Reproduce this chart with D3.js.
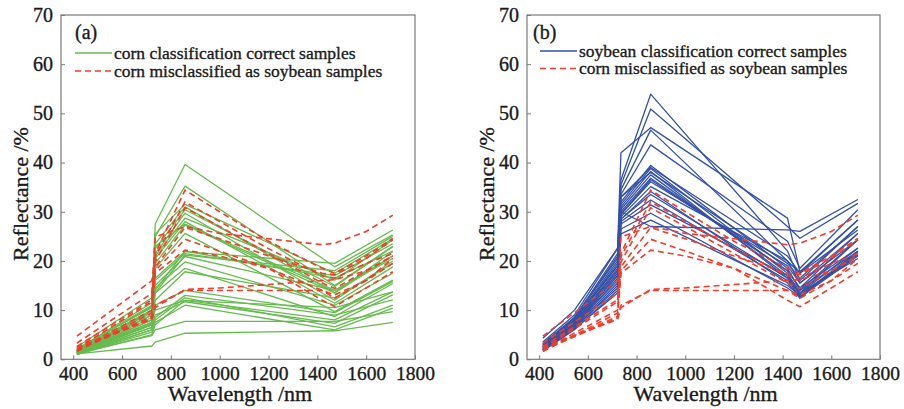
<!DOCTYPE html>
<html>
<head>
<meta charset="utf-8">
<script src="https://cdn.jsdelivr.net/npm/d3@7"></script>
<style>
  body { margin: 0; background: #fff; }
  svg { display: block; }
  svg text {
    font-family: "Liberation Serif", "DejaVu Serif", serif !important;
    fill: #1a1a1a;
    stroke: #1a1a1a;
    stroke-width: 0.35px;
  }
</style>
</head>
<body>
<svg id="chart" width="904" height="409"></svg>
<script>
// wavelengths (nm) where each group of spectra has a vertex
const wlGreen = [415, 722, 736, 858, 1471, 1709];
const wlBlue = [415, 545, 722, 736, 858, 1420, 1471, 1709];
const wlRed = [415, 722, 736, 858, 1000, 1200, 1420, 1471, 1600, 1709];

// corn, classified correctly (reflectance %)
const cornCorrect = [
  [2.2, 10.5, 27.5, 39.6, 18.8, 25.3],
  [2.0, 11.5, 25.0, 35.2, 15.0, 23.0],
  [1.8, 10.8, 23.5, 31.0, 13.5, 21.0],
  [1.7, 10.0, 22.5, 30.4, 14.8, 22.9],
  [1.6, 9.5, 21.5, 29.7, 12.0, 20.0],
  [1.5, 9.0, 21.0, 28.7, 16.1, 24.3],
  [1.6, 9.8, 20.5, 28.0, 11.4, 18.8],
  [1.4, 8.5, 19.5, 27.3, 13.5, 21.9],
  [1.5, 9.0, 18.5, 25.6, 9.7, 16.1],
  [1.3, 8.0, 16.5, 21.9, 19.5, 26.3],
  [1.3, 7.5, 16.0, 21.5, 17.0, 23.5],
  [1.2, 7.0, 15.0, 20.9, 14.0, 21.0],
  [1.2, 7.2, 14.5, 19.8, 11.0, 17.5],
  [1.1, 6.5, 13.5, 18.5, 8.7, 15.4],
  [1.0, 6.0, 12.0, 17.8, 12.5, 19.5],
  [1.4, 8.0, 10.0, 12.0, 8.0, 13.7],
  [1.3, 7.0, 9.0, 11.7, 7.3, 13.1],
  [1.2, 6.5, 8.5, 13.0, 9.0, 12.1],
  [1.1, 6.0, 8.0, 12.5, 6.6, 11.0],
  [1.0, 5.5, 7.5, 11.0, 6.0, 10.4],
  [1.0, 5.0, 7.0, 12.0, 10.5, 13.7],
  [1.2, 4.8, 6.0, 7.7, 7.7, 9.7],
  [1.1, 2.7, 3.5, 5.3, 5.8, 7.5],
  [1.5, 9.0, 13.5, 21.2, 18.0, 25.0],
  [1.7, 10.0, 14.0, 22.0, 16.5, 22.0],
  [2.5, 12.5, 25.5, 31.5, 17.5, 24.5],
  [2.0, 11.0, 23.0, 27.5, 14.0, 20.5],
  [1.3, 7.5, 11.0, 14.0, 9.5, 15.8]
];

// soybean, classified correctly
const soyCorrect = [
  [3.2, 8.5, 21.5, 36.5, 53.9, 22.0, 16.0, 27.0],
  [3.0, 8.3, 21.0, 35.5, 50.9, 27.0, 24.6, 31.7],
  [3.5, 9.0, 22.5, 42.0, 47.1, 28.7, 17.8, 28.3],
  [2.8, 8.0, 20.0, 34.5, 46.6, 20.0, 15.5, 25.6],
  [3.0, 8.5, 20.5, 33.5, 43.6, 24.0, 18.5, 30.4],
  [2.5, 7.8, 19.5, 32.0, 39.4, 18.5, 14.1, 24.3],
  [2.6, 7.5, 18.5, 31.5, 38.8, 17.5, 13.4, 22.6],
  [2.4, 7.2, 18.0, 31.0, 38.2, 16.5, 12.4, 21.9],
  [2.3, 7.0, 17.5, 30.5, 37.5, 17.0, 13.0, 21.2],
  [2.2, 6.8, 17.0, 30.0, 36.8, 18.0, 14.5, 22.6],
  [2.0, 6.5, 16.5, 29.5, 36.1, 19.0, 15.5, 24.3],
  [2.1, 7.0, 16.0, 29.0, 35.1, 20.0, 17.5, 26.3],
  [1.9, 6.6, 15.5, 28.5, 34.1, 15.5, 12.8, 21.5],
  [1.8, 6.3, 15.0, 28.0, 32.4, 16.0, 13.5, 20.5],
  [2.0, 6.4, 14.5, 27.5, 31.4, 17.0, 14.0, 22.0],
  [1.7, 6.0, 14.0, 26.5, 29.7, 14.5, 12.6, 21.0],
  [1.9, 6.2, 13.5, 25.5, 28.3, 15.0, 13.0, 21.9],
  [3.0, 8.0, 19.0, 30.0, 27.0, 26.3, 26.0, 32.5],
  [4.3, 10.0, 22.6, 33.0, 38.0, 19.5, 16.5, 27.0],
  [2.5, 7.5, 18.0, 29.5, 36.5, 18.0, 14.5, 25.6],
  [2.2, 7.0, 17.0, 28.5, 33.5, 16.5, 13.5, 24.3],
  [2.6, 7.8, 19.0, 33.0, 39.0, 21.0, 17.5, 28.3]
];

// corn misclassified as soybean (shown in both panels)
const cornAsSoy = [
  [3.3, 13.4, 24.9, 27.0, 25.6, 24.5, 23.3, 23.6, 26.0, 29.3],
  [2.6, 12.1, 21.5, 34.4, 30.0, 24.0, 18.5, 17.5, 21.0, 24.6],
  [2.2, 11.7, 20.9, 32.0, 28.0, 22.5, 17.0, 16.5, 19.5, 21.5],
  [4.7, 16.0, 19.8, 30.8, 27.0, 21.5, 15.5, 14.4, 18.0, 21.0],
  [1.9, 10.0, 18.8, 26.8, 24.5, 21.0, 17.5, 17.2, 20.5, 24.3],
  [1.6, 9.4, 18.0, 24.4, 22.0, 18.5, 14.0, 13.1, 16.0, 19.5],
  [2.0, 8.7, 17.5, 22.2, 21.0, 18.5, 12.0, 10.7, 14.5, 17.8],
  [2.4, 8.1, 10.5, 14.2, 14.5, 15.2, 16.0, 16.2, 18.0, 21.0],
  [1.8, 8.4, 11.0, 14.0, 14.0, 14.0, 14.0, 12.4, 16.0, 20.5]
];

const xTicks = [400, 600, 800, 1000, 1200, 1400, 1600, 1800];
const yTicks = [0, 10, 20, 30, 40, 50, 60, 70];
const legendA = ['corn classification correct samples', 'corn misclassified as soybean samples'];
const legendB = ['soybean classification correct samples', 'corn misclassified as soybean samples'];

const GREEN = '#66bb4f';
const BLUE = '#3451a6';
const RED = '#f23c2c';
const FRAME = '#7a7a7a';

const svg = d3.select('#chart');
const plotTop = 15;
const plotBottom = 359.3;

function drawPanel(p) {
  const x = d3.scaleLinear().domain([350, 1800]).range([p.left, p.right]);
  const y = d3.scaleLinear().domain([0, 70]).range([plotBottom, plotTop]);

  const g = svg.append('g');

  const lineFor = wl => d3.line().x((d, i) => x(wl[i])).y(d => y(d));

  g.append('g')
    .selectAll('path')
    .data(p.solid)
    .enter()
    .append('path')
    .attr('d', lineFor(p.solidWl))
    .attr('fill', 'none')
    .attr('stroke', p.color)
    .attr('stroke-width', 1.3)
    .attr('stroke-linejoin', 'round');

  g.append('g')
    .selectAll('path')
    .data(cornAsSoy)
    .enter()
    .append('path')
    .attr('d', lineFor(wlRed))
    .attr('fill', 'none')
    .attr('stroke', RED)
    .attr('stroke-width', 1.6)
    .attr('stroke-dasharray', '6,4');

  // frame
  g.append('rect')
    .attr('x', p.left)
    .attr('y', plotTop)
    .attr('width', p.right - p.left)
    .attr('height', plotBottom - plotTop)
    .attr('fill', 'none')
    .attr('stroke', FRAME)
    .attr('stroke-width', 1.2);

  const xAxis = g.append('g')
    .attr('transform', `translate(0,${plotBottom})`)
    .call(d3.axisBottom(x).tickValues(xTicks).tickFormat(d3.format('d'))
      .tickSize(-4).tickSizeOuter(0).tickPadding(6.5));
  xAxis.select('.domain').remove();
  xAxis.selectAll('line').attr('stroke', FRAME);
  xAxis.selectAll('text').style('font-size', '19.5px');

  const yAxis = g.append('g')
    .attr('transform', `translate(${p.left},0)`)
    .call(d3.axisLeft(y).tickValues(yTicks).tickSize(-4).tickSizeOuter(0).tickPadding(8));
  yAxis.select('.domain').remove();
  yAxis.selectAll('line').attr('stroke', FRAME);
  yAxis.selectAll('text').style('font-size', '20px');

  g.append('text')
    .attr('x', (p.left + p.right) / 2 + 2)
    .attr('y', 401)
    .attr('text-anchor', 'middle')
    .style('font-size', '22px')
    .text('Wavelength /nm');

  g.append('text')
    .attr('transform', `translate(${p.left - 33},194) rotate(-90)`)
    .attr('text-anchor', 'middle')
    .style('font-size', '22px')
    .text('Reflectance /%');

  g.append('text')
    .attr('x', p.left + p.tagDx)
    .attr('y', 39)
    .style('font-size', '20px')
    .text(p.tag);

  // legend
  const legend = g.append('g')
    .attr('transform', `translate(${p.left + p.legDx},${p.legY})`);
  const styles = [
    { color: p.color, width: 1.3, dash: null },
    { color: RED, width: 1.6, dash: '6,4' }
  ];
  p.legend.forEach((label, i) => {
    const row = legend.append('g').attr('transform', `translate(0,${i * p.legGap})`);
    row.append('line')
      .attr('x1', 0)
      .attr('x2', 37)
      .attr('y1', 0)
      .attr('y2', 0)
      .attr('stroke', styles[i].color)
      .attr('stroke-width', styles[i].width)
      .attr('stroke-dasharray', styles[i].dash);
    row.append('text')
      .attr('x', 39)
      .attr('y', 5.5)
      .style('font-size', '17.5px')
      .text(label);
  });
}

drawPanel({
  left: 61, right: 415, solid: cornCorrect, solidWl: wlGreen, color: GREEN,
  tag: '(a)', tagDx: 14, legend: legendA, legDx: 14, legY: 53, legGap: 18
});

drawPanel({
  left: 527, right: 880, solid: soyCorrect, solidWl: wlBlue, color: BLUE,
  tag: '(b)', tagDx: 6, legend: legendB, legDx: 13, legY: 51, legGap: 17.5
});
</script>
</body>
</html>
